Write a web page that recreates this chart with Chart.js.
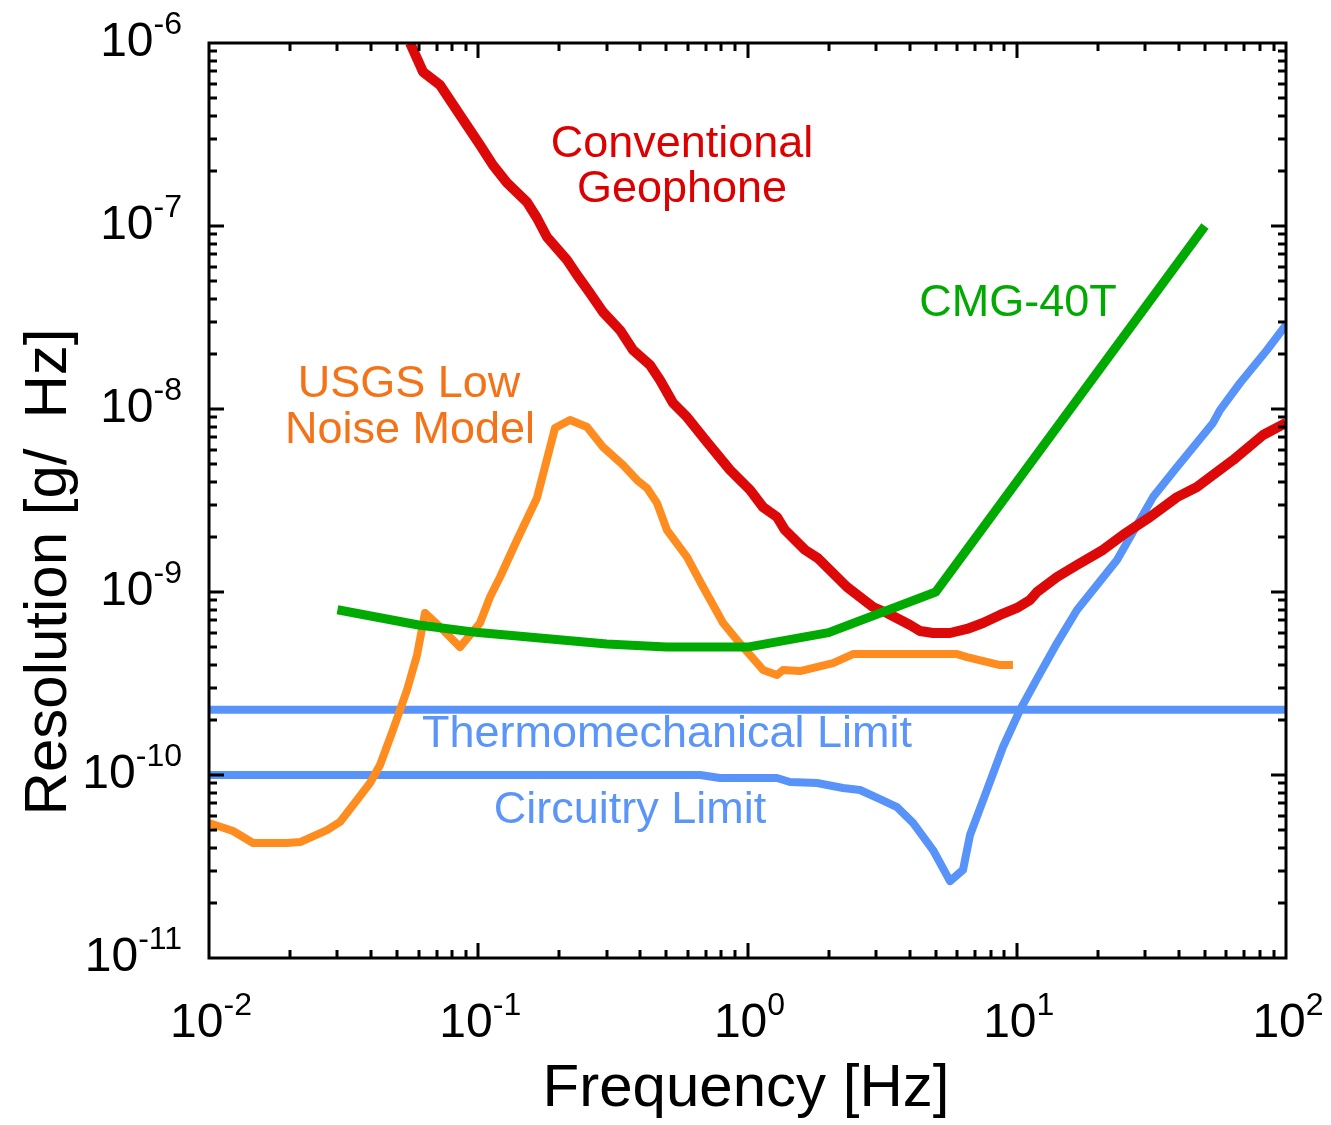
<!DOCTYPE html>
<html>
<head>
<meta charset="utf-8">
<script src="https://cdn.jsdelivr.net/npm/chart.js@4.4.1/dist/chart.umd.min.js"></script>
<style>
  html, body { margin: 0; padding: 0; background: #fff; }
  canvas { display: block; }
</style>
</head>
<body>
<canvas id="chart" width="1331" height="1125"></canvas>
<script>
// Conventional geophone
const geoFreq = [0.0558, 0.0624, 0.0721, 0.0855, 0.1015, 0.1134, 0.1279, 0.1517, 0.1652, 0.180,
    0.2136, 0.2327, 0.260, 0.2905, 0.336, 0.3756, 0.4344, 0.473, 0.529, 0.596,
    0.7076, 0.861, 1.022, 1.142, 1.287, 1.378, 1.635, 1.827, 2.342, 2.925,
    3.297, 4.015, 4.372, 4.887, 5.651, 6.535, 7.494, 8.667, 10.02, 11.2,
    11.89, 14.11, 16.74, 20.91, 24.81, 31.26, 39.38, 46.7, 55.4, 63.6, 82.2, 100];
const geoRes = [1e-6, 6.94e-7, 5.9e-7, 4.04e-7, 2.77e-7, 2.15e-7, 1.72e-7, 1.35e-7, 1.106e-7, 8.71e-8,
    6.52e-8, 5.4e-8, 4.3e-8, 3.39e-8, 2.7e-8, 2.1e-8, 1.74e-8, 1.44e-8, 1.078e-8, 9.04e-9,
    6.6e-9, 4.64e-9, 3.61e-9, 2.91e-9, 2.57e-9, 2.18e-9, 1.7e-9, 1.53e-9, 1.065e-9, 8.28e-10,
    7.68e-10, 6.6e-10, 6.12e-10, 5.97e-10, 5.97e-10, 6.28e-10, 6.77e-10, 7.49e-10, 8.18e-10, 9.04e-10,
    1e-9, 1.208e-9, 1.405e-9, 1.7e-9, 2.05e-9, 2.57e-9, 3.3e-9, 3.75e-9, 4.52e-9, 5.26e-9, 7.21e-9, 8.4e-9];

// CMG-40T
const cmgFreq = [0.03, 0.06, 0.1, 0.3, 0.5, 1, 2, 5, 50];
const cmgRes = [8e-10, 6.6e-10, 6e-10, 5.2e-10, 5e-10, 5e-10, 6e-10, 1e-9, 1e-7];

// USGS low noise model
const nlnmFreq = [0.01, 0.01228, 0.01457, 0.0195, 0.0218, 0.02743, 0.03066, 0.03545, 0.03963, 0.04317,
    0.04825, 0.05438, 0.05924, 0.06343, 0.07211, 0.08554, 0.1015, 0.1106, 0.1205, 0.1393,
    0.1652, 0.1928, 0.2192, 0.2535, 0.2905, 0.3448, 0.3887, 0.4234, 0.4613, 0.5023,
    0.5963, 0.6839, 0.8115, 0.9142, 1.142, 1.287, 1.355, 1.567, 2.078, 2.465, 6.0, 6.535, 8.667, 9.68];
const nlnmRes = [5.47e-11, 4.94e-11, 4.25e-11, 4.25e-11, 4.3e-11, 5e-11, 5.54e-11, 7.3e-11, 9.04e-11, 1.134e-10,
    1.762e-10, 2.914e-10, 4.52e-10, 7.68e-10, 6.44e-10, 5e-10, 6.77e-10, 9.39e-10, 1.208e-9, 1.924e-9,
    3.26e-9, 7.87e-9, 8.71e-9, 7.97e-9, 6.2e-9, 4.94e-9, 4.09e-9, 3.7e-9, 3.06e-9, 2.18e-9,
    1.553e-9, 1.065e-9, 6.77e-10, 5.46e-10, 3.75e-10, 3.52e-10, 3.75e-10, 3.7e-10, 4.09e-10, 4.58e-10,
    4.58e-10, 4.41e-10, 3.99e-10, 3.99e-10];

// circuitry limit
const circFreq = [0.01, 0.666, 0.7906, 1.287, 1.438, 1.812, 2.263, 2.617, 3.105, 3.592,
    4.119, 4.887, 5.651, 6.316, 6.707, 7.623, 8.889, 10.28, 11.89, 14.11,
    16.74, 19.2, 23.57, 32.06, 39.38, 53.56, 56.87, 67.5, 85.0, 100];
const circRes = [1e-10, 1e-10, 9.63e-11, 9.63e-11, 9.16e-11, 9.04e-11, 8.49e-11, 8.28e-11, 7.39e-11, 6.68e-11,
    5.47e-11, 3.89e-11, 2.63e-11, 3.03e-11, 4.7e-11, 7.77e-11, 1.422e-10, 2.265e-10, 3.35e-10, 5.26e-10,
    7.97e-10, 1.025e-9, 1.496e-9, 3.3e-9, 4.82e-9, 8.39e-9, 9.87e-9, 1.387e-8, 2.1e-8, 2.88e-8];

// thermomechanical limit
const thermoFreq = [0.01, 100];
const thermoRes = [2.27e-10, 2.27e-10];

// axis ticks
const xTicks = [0.01, 0.1, 1, 10, 100];
const xTickExp = ['-2', '-1', '0', '1', '2'];
const yTicks = [1e-11, 1e-10, 1e-9, 1e-8, 1e-7, 1e-6];
const yTickExp = ['-11', '-10', '-9', '-8', '-7', '-6'];

const FONT = "'Liberation Sans', Arial, Helvetica, sans-serif";

function pts(xs, ys) {
    return xs.map((x, i) => ({ x: x, y: ys[i] }));
}

function lineSet(data, color, width) {
    return {
        data: data,
        borderColor: color,
        borderWidth: width,
        pointRadius: 0,
        tension: 0,
        fill: false,
        borderJoinStyle: 'round',
        borderCapStyle: 'butt'
    };
}

const frame = {
    id: 'frame',
    afterDatasetsDraw(chart) {
        const ctx = chart.ctx;
        const a = chart.chartArea;
        const xs = chart.scales.x;
        const ys = chart.scales.y;
        ctx.save();
        ctx.strokeStyle = '#000';
        ctx.lineWidth = 3;
        ctx.lineCap = 'butt';

        // inward ticks on all four sides
        ctx.beginPath();
        for (let d = -2; d < 2; d++) {
            for (let m = 1; m < 10; m++) {
                const v = m * Math.pow(10, d);
                const px = Math.round(xs.getPixelForValue(v));
                const len = m === 1 ? 15 : 8;
                if (m === 1 && d === -2) continue;
                ctx.moveTo(px, a.bottom); ctx.lineTo(px, a.bottom - len);
                ctx.moveTo(px, a.top); ctx.lineTo(px, a.top + len);
            }
        }
        for (let d = -11; d < -6; d++) {
            for (let m = 1; m < 10; m++) {
                const v = m * Math.pow(10, d);
                const py = Math.round(ys.getPixelForValue(v));
                const len = m === 1 ? 15 : 8;
                if (m === 1 && d === -11) continue;
                ctx.moveTo(a.left, py); ctx.lineTo(a.left + len, py);
                ctx.moveTo(a.right, py); ctx.lineTo(a.right - len, py);
            }
        }
        ctx.stroke();
        ctx.strokeRect(a.left, a.top, a.right - a.left, a.bottom - a.top);

        // tick labels, 10 with superscript exponent
        ctx.fillStyle = '#000';
        ctx.textBaseline = 'alphabetic';
        const baseFont = '48px ' + FONT;
        const expFont = '32px ' + FONT;
        xTicks.forEach((v, i) => {
            const px = xs.getPixelForValue(v);
            ctx.font = baseFont;
            const bw = ctx.measureText('10').width;
            ctx.font = expFont;
            const ew = ctx.measureText(xTickExp[i]).width;
            const x0 = px - (bw + ew) / 2 + 2;
            ctx.textAlign = 'left';
            ctx.font = baseFont;
            ctx.fillText('10', x0, 1037);
            ctx.font = expFont;
            ctx.fillText(xTickExp[i], x0 + bw, 1015);
        });
        yTicks.forEach((v, i) => {
            const py = ys.getPixelForValue(v);
            ctx.font = expFont;
            const ew = ctx.measureText(yTickExp[i]).width;
            const right = 182;
            ctx.textAlign = 'right';
            ctx.fillText(yTickExp[i], right, py - 9);
            ctx.font = baseFont;
            ctx.fillText('10', right - ew, py + 13);
        });

        // axis titles
        ctx.font = '60px ' + FONT;
        ctx.textAlign = 'center';
        ctx.fillText('Frequency [Hz]', 746, 1106);
        ctx.save();
        ctx.translate(66, 572);
        ctx.rotate(-Math.PI / 2);
        ctx.fillText('Resolution [g/\u2002Hz]', 0, 0);
        ctx.restore();

        // curve labels
        ctx.font = '45px ' + FONT;
        const notes = [
            ['Conventional', 682, 157, '#dd0000'],
            ['Geophone', 682, 202, '#dd0000'],
            ['CMG-40T', 1018, 316, '#00aa00'],
            ['USGS Low', 409, 397, '#f57318'],
            ['Noise Model', 410, 443, '#f57318'],
            ['Thermomechanical Limit', 667, 747, '#5b95f9'],
            ['Circuitry Limit', 630, 823, '#5b95f9']
        ];
        notes.forEach(n => {
            ctx.fillStyle = n[3];
            ctx.fillText(n[0], n[1], n[2]);
        });
        ctx.restore();
    }
};

new Chart(document.getElementById('chart'), {
    type: 'line',
    data: {
        datasets: [
            lineSet(pts(cmgFreq, cmgRes), '#00aa00', 9),
            lineSet(pts(geoFreq, geoRes), '#dd0808', 10),
            lineSet(pts(nlnmFreq, nlnmRes), '#ff8c1e', 8),
            lineSet(pts(circFreq, circRes), '#5893fa', 8),
            lineSet(pts(thermoFreq, thermoRes), '#5893fa', 8)
        ]
    },
    options: {
        responsive: false,
        animation: false,
        layout: { padding: { left: 209, right: 45, top: 43, bottom: 167 } },
        plugins: {
            legend: { display: false },
            tooltip: { enabled: false }
        },
        scales: {
            x: { type: 'logarithmic', min: 0.01, max: 100, display: false },
            y: { type: 'logarithmic', min: 1e-11, max: 1e-6, display: false }
        }
    },
    plugins: [frame]
});
</script>
</body>
</html>
